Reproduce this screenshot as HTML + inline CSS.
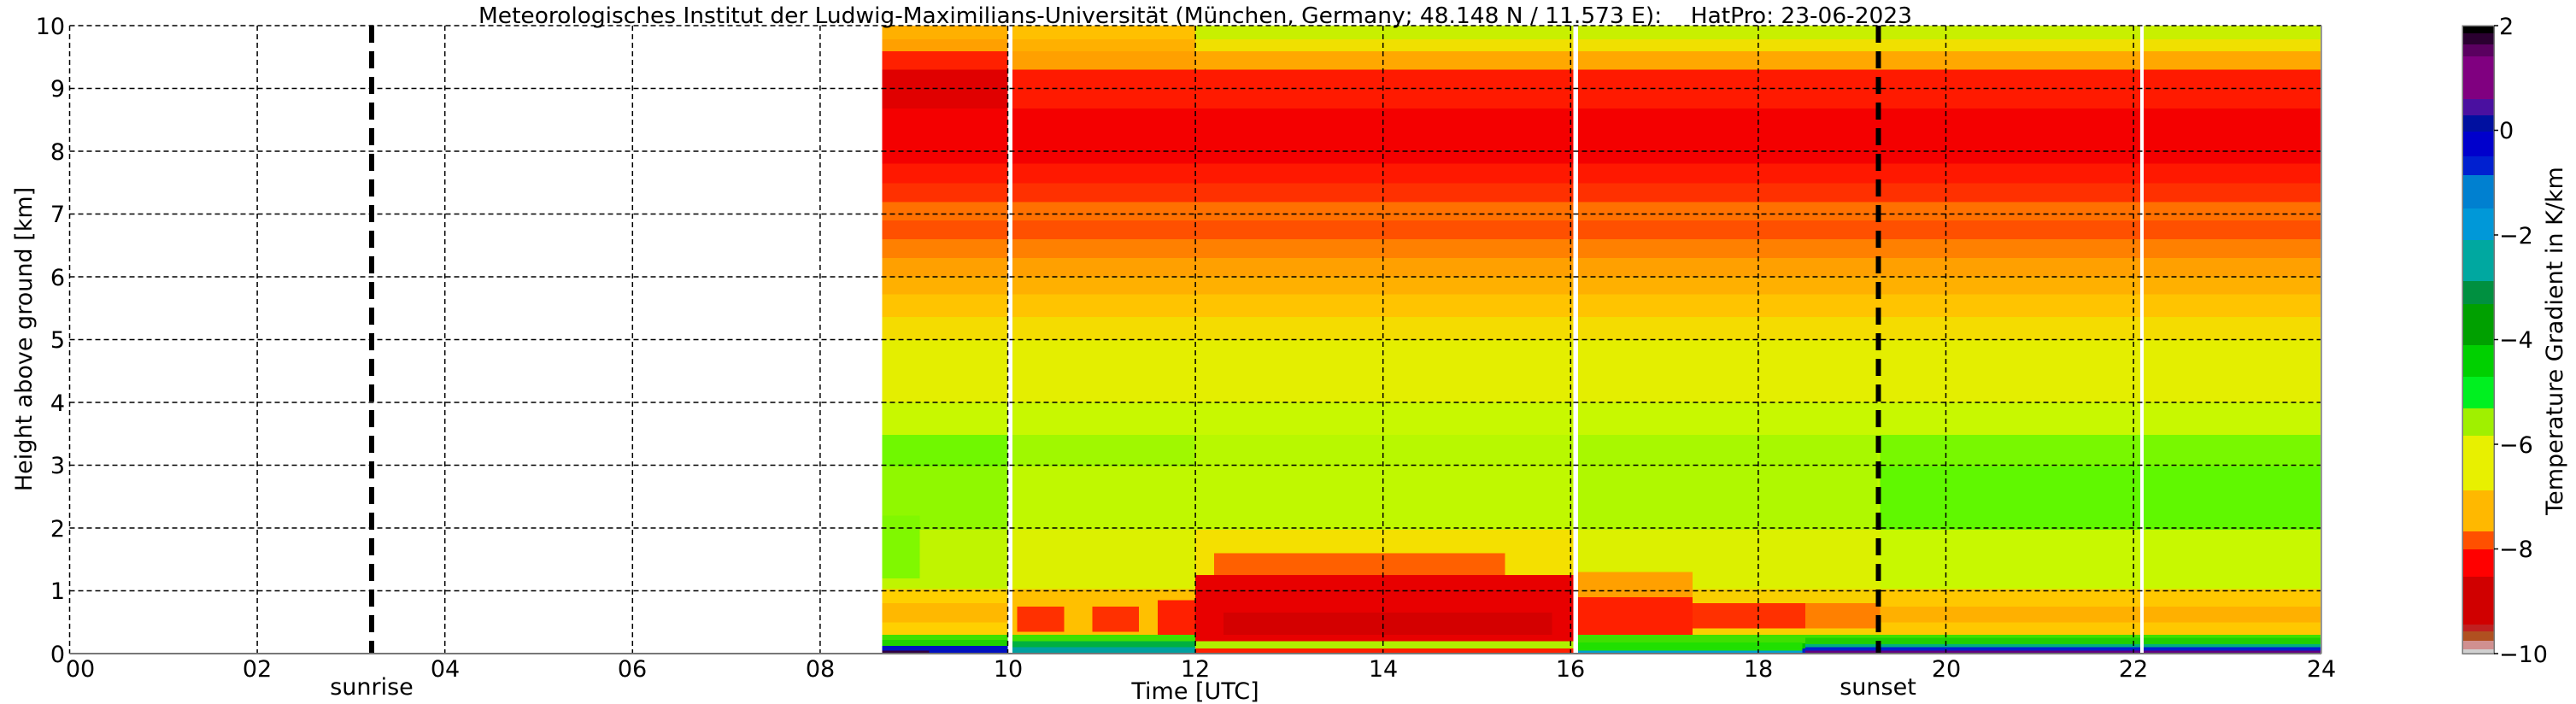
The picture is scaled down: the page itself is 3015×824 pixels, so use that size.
<!DOCTYPE html>
<html><head><meta charset="utf-8"><style>
html,body{margin:0;padding:0;background:#fff;}
svg{display:block;}
text{font-family:"DejaVu Sans","Liberation Sans",sans-serif;fill:#000;}
</style></head><body>
<svg width="3015" height="824" viewBox="0 0 3015 824" xmlns="http://www.w3.org/2000/svg">
<!-- data area: x = 81.5 + h*109.8 ; y = 765 - km*73.5 -->
<g transform="translate(81.5,765) scale(109.8,-73.5)" shape-rendering="crispEdges">
 <!-- default bands 8.66-24 -->
 <g>
  <rect x="8.66" y="9.78" width="15.34" height="0.22" fill="#c8f000"/>
  <rect x="8.66" y="9.59" width="15.34" height="0.19" fill="#f0e000"/>
  <rect x="8.66" y="9.3" width="15.34" height="0.29" fill="#ffa800"/>
  <rect x="8.66" y="8.68" width="15.34" height="0.62" fill="#ff1a00"/>
  <rect x="8.66" y="7.8" width="15.34" height="0.88" fill="#f40000"/>
  <rect x="8.66" y="7.49" width="15.34" height="0.31" fill="#ff1800"/>
  <rect x="8.66" y="7.19" width="15.34" height="0.3" fill="#ff3000"/>
  <rect x="8.66" y="6.9" width="15.34" height="0.29" fill="#ff7000"/>
  <rect x="8.66" y="6.6" width="15.34" height="0.3" fill="#ff5000"/>
  <rect x="8.66" y="6.3" width="15.34" height="0.3" fill="#ff8000"/>
  <rect x="8.66" y="6.0" width="15.34" height="0.3" fill="#ffa000"/>
  <rect x="8.66" y="5.72" width="15.34" height="0.28" fill="#ffb000"/>
  <rect x="8.66" y="5.36" width="15.34" height="0.36" fill="#ffc400"/>
  <rect x="8.66" y="5.0" width="15.34" height="0.36" fill="#f4dc00"/>
  <rect x="8.66" y="4.0" width="15.34" height="1.0" fill="#e4ee00"/>
  <rect x="8.66" y="3.48" width="15.34" height="0.52" fill="#c8f800"/>
  <rect x="8.66" y="2.98" width="15.34" height="0.5" fill="#b8f800"/>
  <rect x="8.66" y="1.97" width="15.34" height="1.01" fill="#c0f800"/>
  <rect x="8.66" y="1.03" width="15.34" height="0.94" fill="#dcf000"/>
  <rect x="8.66" y="0.3" width="15.34" height="0.73" fill="#f8d000"/>
  <rect x="8.66" y="0.16" width="15.34" height="0.14" fill="#40e000"/>
  <rect x="8.66" y="0.08" width="15.34" height="0.08" fill="#00c000"/>
  <rect x="8.66" y="0" width="15.34" height="0.08" fill="#0020c0"/>
 </g>
 <!-- early 8.66-10 -->
 <rect x="8.66" y="9.78" width="1.34" height="0.22" fill="#ffb000"/>
 <rect x="8.66" y="9.59" width="1.34" height="0.19" fill="#ffa000"/>
 <rect x="8.66" y="9.3" width="1.34" height="0.29" fill="#ff2000"/>
 <rect x="8.66" y="8.68" width="1.34" height="0.62" fill="#e00000"/>
 <rect x="8.66" y="2.98" width="1.34" height="0.5" fill="#70f800"/>
 <rect x="8.66" y="1.97" width="1.34" height="1.01" fill="#90f800"/>
 <rect x="8.66" y="1.03" width="1.34" height="0.94" fill="#c0f400"/>
 <rect x="8.66" y="1.2" width="0.4" height="1.0" fill="#80f800"/>
 <rect x="8.66" y="0.3" width="1.34" height="0.73" fill="#ffd000"/>
 <rect x="8.66" y="0.5" width="1.34" height="0.3" fill="#ffb800"/>
 <rect x="8.66" y="0.12" width="1.34" height="0.1" fill="#20d000"/>
 <rect x="8.66" y="0" width="1.34" height="0.12" fill="#0010c0"/>
 <rect x="8.66" y="0" width="0.5" height="0.05" fill="#300040"/>
 <!-- 10-12 -->
 <rect x="10" y="9.78" width="2" height="0.22" fill="#ffc000"/>
 <rect x="10" y="9.59" width="2" height="0.19" fill="#ffb000"/>
 <rect x="10" y="9.3" width="2" height="0.29" fill="#ffa000"/>
 <rect x="10" y="2.98" width="2" height="0.5" fill="#a0f800"/>
 <rect x="10" y="0.3" width="2" height="0.73" fill="#ffc000"/>
 <rect x="10.1" y="0.35" width="0.5" height="0.4" fill="#ff3000"/>
 <rect x="10.9" y="0.35" width="0.5" height="0.4" fill="#ff3000"/>
 <rect x="11.6" y="0.3" width="0.4" height="0.55" fill="#ff2000"/>
 <rect x="10" y="0.1" width="2" height="0.1" fill="#00b040"/>
 <rect x="10" y="0" width="2" height="0.1" fill="#00a0a0"/>
 <!-- 12-16 boundary layer -->
 <rect x="12" y="1.03" width="4.07" height="0.94" fill="#f4e000"/>
 <rect x="12.2" y="1.25" width="3.1" height="0.35" fill="#ff6000"/>
 <rect x="12" y="0.2" width="4.07" height="1.05" fill="#e80000"/>
 <rect x="12.3" y="0.3" width="3.5" height="0.35" fill="#d40000"/>
 <rect x="12" y="0.08" width="4.07" height="0.12" fill="#b0f000"/>
 <rect x="12" y="0" width="4.07" height="0.08" fill="#ff2000"/>
 <!-- 16-19.3 -->
 <rect x="16.07" y="0.3" width="1.23" height="0.6" fill="#ff2000"/>
 <rect x="16.07" y="0.9" width="1.23" height="0.4" fill="#ffa000"/>
 <rect x="17.3" y="0.4" width="1.2" height="0.4" fill="#ff3000"/>
 <rect x="18.5" y="0.4" width="0.8" height="0.4" fill="#ff8000"/>
 <rect x="16.07" y="2.98" width="3.2" height="0.5" fill="#a8f800"/>
 <rect x="16.07" y="1.97" width="3.2" height="1.01" fill="#b0f800"/>
 <rect x="16.07" y="0.05" width="2.4" height="0.13" fill="#20e000"/>
 <rect x="16.07" y="0" width="2.4" height="0.05" fill="#00a0d0"/>
 <!-- 19.3-24 -->
 <rect x="19.3" y="0.3" width="4.7" height="0.73" fill="#ffc800"/>
 <rect x="19.3" y="0.5" width="4.7" height="0.25" fill="#ffb000"/>
 <rect x="19.3" y="1.03" width="4.7" height="0.94" fill="#c8f800"/>
 <rect x="19.3" y="1.97" width="4.7" height="1.01" fill="#60f800"/>
 <rect x="19.3" y="2.98" width="4.7" height="0.5" fill="#78f800"/>
 <rect x="18.5" y="0.15" width="5.5" height="0.1" fill="#20d000"/>
 <rect x="18.5" y="0.1" width="5.5" height="0.05" fill="#00b080"/>
 <rect x="18.5" y="0.05" width="5.5" height="0.05" fill="#0020d0"/>
 <rect x="18.5" y="0" width="5.5" height="0.05" fill="#600080"/>
 <!-- gaps -->
 <rect x="10.0" y="0" width="0.05" height="10" fill="#fff"/>
 <rect x="16.03" y="0" width="0.05" height="10" fill="#fff"/>
 <rect x="22.07" y="0" width="0.04" height="10" fill="#fff"/>
</g>
<!-- grid -->
<g stroke="#000" stroke-width="1.5" stroke-dasharray="6,4">
 <line x1="81.5" y1="30" x2="81.5" y2="765"/><line x1="301.1" y1="30" x2="301.1" y2="765"/>
 <line x1="520.7" y1="30" x2="520.7" y2="765"/><line x1="740.3" y1="30" x2="740.3" y2="765"/>
 <line x1="959.9" y1="30" x2="959.9" y2="765"/><line x1="1179.5" y1="30" x2="1179.5" y2="765"/>
 <line x1="1399.1" y1="30" x2="1399.1" y2="765"/><line x1="1618.7" y1="30" x2="1618.7" y2="765"/>
 <line x1="1838.3" y1="30" x2="1838.3" y2="765"/><line x1="2057.9" y1="30" x2="2057.9" y2="765"/>
 <line x1="2277.5" y1="30" x2="2277.5" y2="765"/><line x1="2497.1" y1="30" x2="2497.1" y2="765"/>
 <line x1="81.5" y1="30" x2="2717" y2="30"/><line x1="81.5" y1="103.5" x2="2717" y2="103.5"/>
 <line x1="81.5" y1="177" x2="2717" y2="177"/><line x1="81.5" y1="250.5" x2="2717" y2="250.5"/>
 <line x1="81.5" y1="324" x2="2717" y2="324"/><line x1="81.5" y1="397.5" x2="2717" y2="397.5"/>
 <line x1="81.5" y1="471" x2="2717" y2="471"/><line x1="81.5" y1="544.5" x2="2717" y2="544.5"/>
 <line x1="81.5" y1="618" x2="2717" y2="618"/><line x1="81.5" y1="691.5" x2="2717" y2="691.5"/>
</g>
<g stroke="#000" stroke-width="6" stroke-dasharray="20,10">
 <line x1="435" y1="30" x2="435" y2="765"/>
 <line x1="2198.5" y1="30" x2="2198.5" y2="765"/>
</g>
<line x1="81.5" y1="765" x2="2717" y2="765" stroke="#777" stroke-width="2"/>
<line x1="2717" y1="30" x2="2717" y2="765" stroke="#999" stroke-width="2"/>
<!-- title -->
<text x="1399" y="27" font-size="26" text-anchor="middle" textLength="1678" lengthAdjust="spacingAndGlyphs" xml:space="preserve">Meteorologisches Institut der Ludwig-Maximilians-Universität (München, Germany; 48.148 N / 11.573 E):    HatPro: 23-06-2023</text>
<!-- y ticks -->
<g font-size="27" text-anchor="end">
 <text x="76" y="40">10</text><text x="76" y="113">9</text><text x="76" y="187">8</text>
 <text x="76" y="260">7</text><text x="76" y="334">6</text><text x="76" y="407">5</text>
 <text x="76" y="481">4</text><text x="76" y="554">3</text><text x="76" y="628">2</text>
 <text x="76" y="701">1</text><text x="76" y="775">0</text>
</g>
<text transform="translate(37,397) rotate(-90)" font-size="27" text-anchor="middle">Height above ground [km]</text>
<!-- x ticks -->
<g font-size="27" text-anchor="middle">
 <text x="94" y="792">00</text><text x="301" y="792">02</text><text x="521" y="792">04</text>
 <text x="740" y="792">06</text><text x="960" y="792">08</text><text x="1180" y="792">10</text>
 <text x="1399" y="792">12</text><text x="1619" y="792">14</text><text x="1838" y="792">16</text>
 <text x="2058" y="792">18</text><text x="2278" y="792">20</text><text x="2497" y="792">22</text>
 <text x="2717" y="792">24</text>
 <text x="435" y="813">sunrise</text><text x="2198" y="813">sunset</text>
 <text x="1399" y="818">Time [UTC]</text>
</g>
<!-- colorbar: y = 30 + (2-v)*61.25 -->
<g shape-rendering="crispEdges">
 <rect x="2882" y="30" width="37" height="735" fill="#ffb000"/>
 <rect x="2882" y="30" width="37" height="9" fill="#000"/>
 <rect x="2882" y="39" width="37" height="13" fill="#2a0030"/>
 <rect x="2882" y="52" width="37" height="14" fill="#5a0060"/>
 <rect x="2882" y="66" width="37" height="50" fill="#800080"/>
 <rect x="2882" y="116" width="37" height="19" fill="#4a10a0"/>
 <rect x="2882" y="135" width="37" height="19" fill="#0010a0"/>
 <rect x="2882" y="154" width="37" height="29" fill="#0000cc"/>
 <rect x="2882" y="183" width="37" height="22" fill="#0020d0"/>
 <rect x="2882" y="205" width="37" height="39" fill="#0080d0"/>
 <rect x="2882" y="244" width="37" height="37" fill="#0098d8"/>
 <rect x="2882" y="281" width="37" height="48" fill="#00a8a0"/>
 <rect x="2882" y="329" width="37" height="27" fill="#009040"/>
 <rect x="2882" y="356" width="37" height="48" fill="#00a000"/>
 <rect x="2882" y="404" width="37" height="37" fill="#00d000"/>
 <rect x="2882" y="441" width="37" height="37" fill="#00f020"/>
 <rect x="2882" y="478" width="37" height="32" fill="#a0f000"/>
 <rect x="2882" y="510" width="37" height="64" fill="#e8f000"/>
 <rect x="2882" y="574" width="37" height="48" fill="#ffb800"/>
 <rect x="2882" y="622" width="37" height="21" fill="#ff5000"/>
 <rect x="2882" y="643" width="37" height="32" fill="#ff0000"/>
 <rect x="2882" y="675" width="37" height="56" fill="#d00000"/>
 <rect x="2882" y="731" width="37" height="8" fill="#c02020"/>
 <rect x="2882" y="739" width="37" height="11" fill="#b05020"/>
 <rect x="2882" y="750" width="37" height="10" fill="#d09090"/>
 <rect x="2882" y="760" width="37" height="5" fill="#d0d0d0"/>
 <rect x="2882" y="30" width="37" height="735" fill="none" stroke="#777" stroke-width="1.5"/>
</g>
<g stroke="#000" stroke-width="1.5">
 <line x1="2919" y1="30" x2="2924" y2="30"/><line x1="2919" y1="152.5" x2="2924" y2="152.5"/>
 <line x1="2919" y1="275" x2="2924" y2="275"/><line x1="2919" y1="397.5" x2="2924" y2="397.5"/>
 <line x1="2919" y1="520" x2="2924" y2="520"/><line x1="2919" y1="642.5" x2="2924" y2="642.5"/>
 <line x1="2919" y1="765" x2="2924" y2="765"/>
</g>
<g font-size="27">
 <text x="2925" y="40">2</text><text x="2925" y="162">0</text>
 <text x="2925" y="285">−2</text><text x="2925" y="407">−4</text>
 <text x="2925" y="530">−6</text><text x="2925" y="652">−8</text>
 <text x="2925" y="775">−10</text>
</g>
<text transform="translate(2999,399) rotate(-90)" font-size="27" text-anchor="middle">Temperature Gradient in K/km</text>
</svg>
</body></html>
